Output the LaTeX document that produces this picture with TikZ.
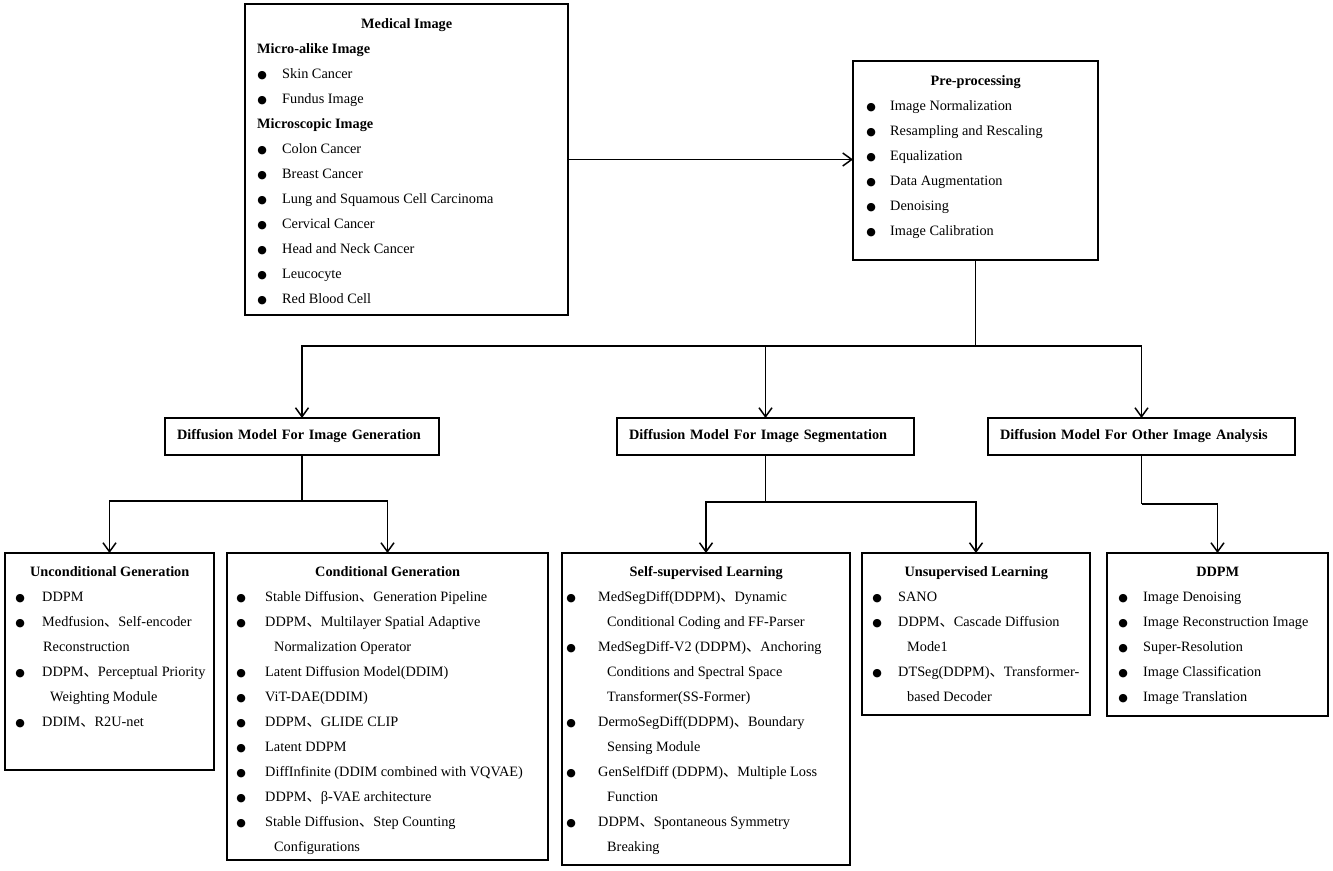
\documentclass[tikz,border=0pt]{standalone}
\usepackage{fontspec}
\setmainfont{Liberation Serif}
\newfontfamily\cjk{Noto Sans CJK SC}
\newfontfamily\dejavu{DejaVu Sans}
\usetikzlibrary{arrows.meta,calc}

\newlength\bx
\newlength\tx
\newcommand\bul{\raisebox{0pt}{\fontsize{11}{11}\dejavu ●}}
\newcommand\itm[1]{\par\noindent\hspace*{\bx}\makebox[0pt]{\bul}\hspace*{\dimexpr\tx-\bx\relax}#1}
\newcommand\cnt[2][9pt]{\par\noindent\hspace*{\dimexpr\tx+#1\relax}#2}
\newcommand\hd[1]{\par\noindent\hspace*{12pt}\textbf{#1}}
\newcommand\ttl[1]{\noindent\makebox[\linewidth]{\textbf{#1}}}
\newcommand\dn{{\cjk 、}}
\newenvironment{cbox}[3]{\begin{minipage}[t]{#1}\fontsize{14.3}{25}\selectfont\setlength\bx{#2}\setlength\tx{#3}}{\end{minipage}}

\tikzset{
  box/.style={draw, line width=1.4pt, inner sep=0pt, outer sep=0pt, anchor=north west},
  hbox/.style={box, minimum height=37pt, inner xsep=12pt, align=left, font=\fontsize{14.3}{17}\selectfont\bfseries},
  txt/.style={anchor=base west, inner sep=0pt, font=\fontsize{14.3}{25}\selectfont},
  conn/.style={line width=1.9pt},
  arr/.style={conn, -{Straight Barb[length=9pt,width=13pt,line width=1.5pt]}}
}

\begin{document}
\begin{tikzpicture}[x=1pt,y=-1pt]
\path[use as bounding box, fill=white] (0,0) rectangle (1333,870);

% Medical Image
\node[box, minimum width=323pt, minimum height=311pt] (med) at (245,4) {};
\node[txt] (medt) at (245,28) {\begin{cbox}{323pt}{17pt}{37pt}
\ttl{Medical Image}
\hd{Micro-alike Image}
\itm{Skin Cancer}
\itm{Fundus Image}
\hd{Microscopic Image}
\itm{Colon Cancer}
\itm{Breast Cancer}
\itm{Lung and Squamous Cell Carcinoma}
\itm{Cervical Cancer}
\itm{Head and Neck Cancer}
\itm{Leucocyte}
\itm{Red Blood Cell}
\end{cbox}};

% Pre-processing
\node[box, minimum width=245pt, minimum height=199pt] (pre) at (853,61) {};
\node[txt] (pret) at (853,85) {\begin{cbox}{245pt}{18pt}{37pt}
\ttl{Pre-processing}
\itm{Image Normalization}
\itm{Resampling and Rescaling}
\itm{Equalization}
\itm{Data Augmentation}
\itm{Denoising}
\itm{Image Calibration}
\end{cbox}};

% Middle level
\node[hbox, minimum width=274pt, text width=250pt] (gen) at (165,418) {Diffusion Model For Image Generation};
\node[hbox, minimum width=297pt, text width=273pt] (seg) at (617,418) {Diffusion Model For Image Segmentation};
\node[hbox, minimum width=307pt, text width=283pt] (oth) at (988,418) {Diffusion Model For Other Image Analysis};

% Bottom level
\node[box, minimum width=209pt, minimum height=217pt] (unc) at (5,553) {};
\node[txt] (unct) at (5,576) {\begin{cbox}{209pt}{15pt}{37pt}
\ttl{Unconditional Generation}
\itm{DDPM}
\itm{Medfusion\dn Self-encoder}
\cnt[1pt]{Reconstruction}
\itm{DDPM\dn Perceptual Priority}
\cnt[8pt]{Weighting Module}
\itm{DDIM\dn R2U-net}
\end{cbox}};

\node[box, minimum width=321pt, minimum height=307pt] (cond) at (227,553) {};
\node[txt] (condt) at (227,576) {\begin{cbox}{321pt}{14pt}{38pt}
\ttl{Conditional Generation}
\itm{Stable Diffusion\dn Generation Pipeline}
\itm{DDPM\dn Multilayer Spatial Adaptive}
\cnt{Normalization Operator}
\itm{Latent Diffusion Model(DDIM)}
\itm{ViT-DAE(DDIM)}
\itm{DDPM\dn GLIDE CLIP}
\itm{Latent DDPM}
\itm{DiffInfinite (DDIM combined with VQVAE)}
\itm{DDPM\dn β-VAE architecture}
\itm{Stable Diffusion\dn Step Counting}
\cnt{Configurations}
\end{cbox}};

\node[box, minimum width=288pt, minimum height=312pt] (ssl) at (562,553) {};
\node[txt] (sslt) at (562,576) {\begin{cbox}{288pt}{9pt}{36pt}
\ttl{Self-supervised Learning}
\itm{MedSegDiff(DDPM)\dn Dynamic}
\cnt{Conditional Coding and FF-Parser}
\itm{MedSegDiff-V2 (DDPM)\dn Anchoring}
\cnt{Conditions and Spectral Space}
\cnt{Transformer(SS-Former)}
\itm{DermoSegDiff(DDPM)\dn Boundary}
\cnt{Sensing Module}
\itm{GenSelfDiff (DDPM)\dn Multiple Loss}
\cnt{Function}
\itm{DDPM\dn Spontaneous Symmetry}
\cnt{Breaking}
\end{cbox}};

\node[box, minimum width=228pt, minimum height=162pt] (uns) at (862,553) {};
\node[txt] (unst) at (862,576) {\begin{cbox}{228pt}{15pt}{36pt}
\ttl{Unsupervised Learning}
\itm{SANO}
\itm{DDPM\dn Cascade Diffusion}
\cnt{Mode1}
\itm{DTSeg(DDPM)\dn Transformer-}
\cnt{based Decoder}
\end{cbox}};

\node[box, minimum width=221pt, minimum height=163pt] (ddpm) at (1107,553) {};
\node[txt] (ddpmt) at (1107,576) {\begin{cbox}{221pt}{16pt}{36pt}
\ttl{DDPM}
\itm{Image Denoising}
\itm{Image Reconstruction Image}
\itm{Super-Resolution}
\itm{Image Classification}
\itm{Image Translation}
\end{cbox}};

% Connectors
\draw[arr] (med.east) -- (med.east -| pre.west);

\coordinate (j1) at ($(pre.south)+(0,86)$);
\draw[conn] (pre.south) -- (j1);
\draw[arr] (j1) -| (gen.north);
\draw[arr] (j1) -| (oth.north);
\draw[arr] (seg.north |- j1) -- (seg.north);

\coordinate (j2) at ($(gen.south)+(0,46)$);
\draw[conn] (gen.south) -- (j2);
\draw[arr] (j2) -| (unc.north);
\draw[arr] (j2) -| (cond.north);

\coordinate (j3) at ($(seg.south)+(0,47)$);
\draw[conn] (seg.south) -- (j3);
\draw[arr] (j3) -| (ssl.north);
\draw[arr] (j3) -| (uns.north);

\coordinate (j4) at ($(oth.south)+(0,49)$);
\draw[conn] (oth.south) -- (j4);
\draw[arr] (j4) -| (ddpm.north);
\end{tikzpicture}
\end{document}
